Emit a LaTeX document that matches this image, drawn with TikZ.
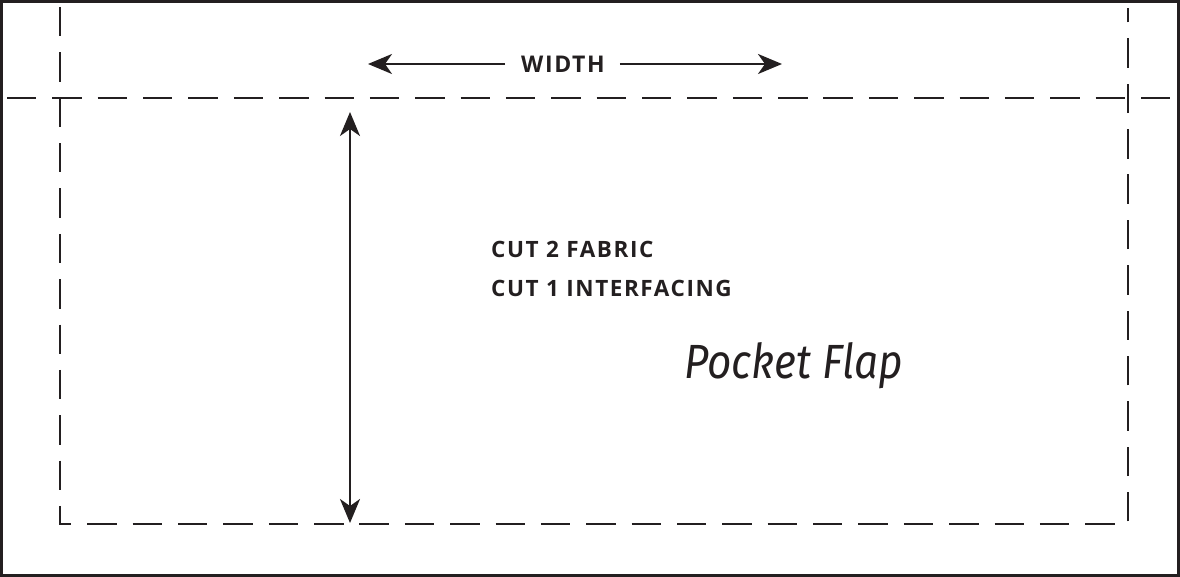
\documentclass[tikz,border=0pt]{standalone}
\usepackage{fontspec}
\usepackage{tikz}
\usetikzlibrary{calc,positioning,arrows.meta}
\newfontfamily\capsfont{Open Sans}[LetterSpace=7]
\newfontfamily\flapfont{Fira Sans}
\definecolor{ink}{HTML}{231F20}
\tikzset{
  seam/.style={draw=ink,line width=2.3pt,dash pattern=on 29.4pt off 15.96pt},
  flaptip/.tip={Stealth[length=24pt,width=20pt,inset=7pt]},
  measure/.style={draw=ink,line width=2.4pt},
  caption/.style={inner sep=0pt,anchor=base west,text=ink,font=\capsfont\bfseries\fontsize{22.5}{22.5}\selectfont}
}
\begin{document}
\begin{tikzpicture}[x=1pt,y=-1pt]
\useasboundingbox (0,0) rectangle (1180,577);
% outer frame
\draw[ink,line width=2.4pt] (1.6,1.6) rectangle (1178.4,575.4);
% define seam corners
\coordinate (TL) at (60,7);
\coordinate (BL) at (60,524);
\coordinate (BR) at (1128,524);
\coordinate (TR) at (1128,8);
\coordinate (HL) at (7,98);
\coordinate (HR) at (1170,98);
% draw seam lines
\draw[seam] (TL) -- (BL) -- (BR) -- (TR);
\draw[seam] (HL) -- (HR);
% width arrow
\node[inner sep=0pt,text height=17.5pt,text depth=0pt,text=ink,font=\capsfont\bfseries\fontsize{23}{23}\selectfont] (width) at (563,64) {WIDTH};
\coordinate (WL) at (368,64);
\coordinate (WR) at (782,64);
\draw[measure,-flaptip] ($(width.west)+(-16,0)$) -- (WL);
\draw[measure,-flaptip] ($(width.east)+(15,0)$) -- (WR);
% height arrow
\coordinate (VT) at (350,112);
\coordinate (VB) at (350,523);
\draw[measure,flaptip-flaptip] (VT) -- (VB);
% label texts
\node[caption] (fabric) at (491,258) {CUT 2 FABRIC};
\node[caption] (interfacing) at (491,297) {CUT 1 INTERFACING};
\node[inner sep=0pt,anchor=base west,text=ink,font=\flapfont\itshape\fontsize{48}{48}\selectfont] (flap) at (684,378) {\scalebox{0.88}[1]{Pocket Flap}};
\end{tikzpicture}
\end{document}
